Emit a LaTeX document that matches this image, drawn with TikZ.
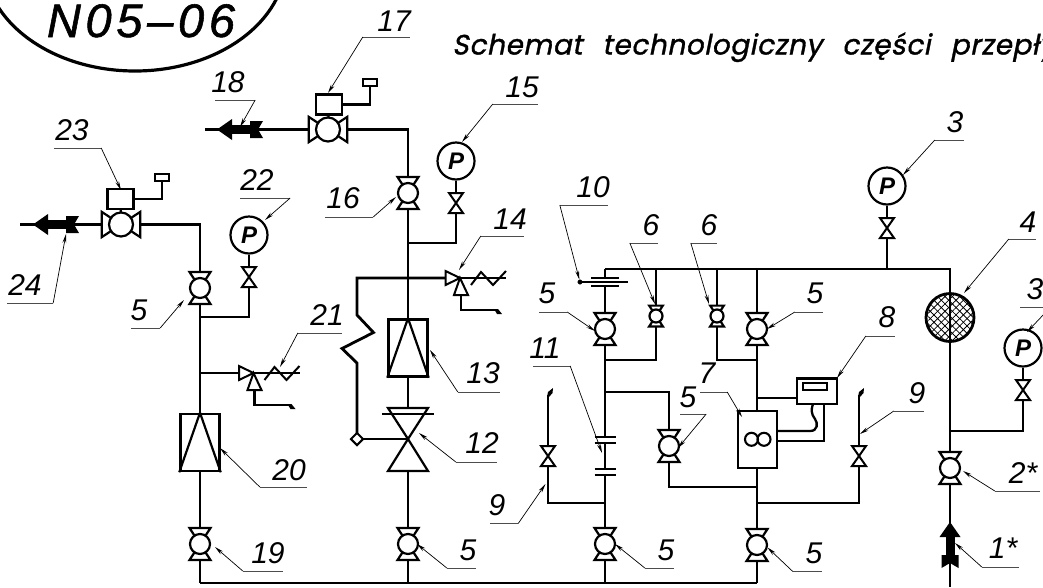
\documentclass[tikz,border=0pt]{standalone}
\usepackage{fontspec}
\setmainfont{Liberation Sans}
\newfontfamily\wideit[LetterSpace=10,FakeBold=1.2]{Liberation Sans}
\newfontfamily\titlefont[LetterSpace=2,WordSpace=2.5,FakeSlant=0.2,FakeBold=1.2]{Poppins}
\usetikzlibrary{arrows.meta,positioning,shapes.geometric,patterns.meta}
\tikzset{
  ballvalve/.pic={
    \draw [line width=2.2pt,fill=white] (-10.5,-16) -- (10.5,-16) -- (0,0) -- cycle;
    \draw [line width=2.2pt,fill=white] (-10.5,16) -- (10.5,16) -- (0,0) -- cycle;
    \draw [line width=2.2pt,fill=white] (0,0) circle (10);
  },
  needlevalve/.pic={
    \draw [line width=2pt,fill=white] (-7,-10) -- (7,-10) -- (0,0) -- cycle;
    \draw [line width=2pt,fill=white] (-7,10) -- (7,10) -- (0,0) -- cycle;
  },
  bigvalve/.pic={
    \draw [line width=2.2pt,fill=white] (-20,-31) -- (20,-31) -- (0,0) -- cycle;
    \draw [line width=2.2pt,fill=white] (-20,32) -- (20,32) -- (0,0) -- cycle;
    \draw [line width=2pt] (-26,-25) -- (26,-25);
  },
  reliefvalve/.pic={
    \draw [line width=2pt] (0,0) -- (46,0);
    \draw [line width=2pt] (11,7) -- (21,-6) -- (33,7) -- (46,-7);
    \draw [line width=2pt,fill=white] (-14.5,-7) -- (0,0) -- (-14.5,7) -- cycle;
    \draw [line width=2.8pt] (1,17) -- (1,32) -- (35,32);
    \draw [line width=2pt,fill=white] (0,0) -- (8,17) -- (-6,17) -- cycle;
    \fill (34,31) -- (38,31) -- (42,36) -- (37,36) -- cycle;
  },
  ventend/.pic={
    \fill (-1,2) -- (0,-3) -- (5,-7) -- (4.5,-2) -- (1,2) -- cycle;
  },
  flowarrow/.pic={
    \fill (0,0) -- (15,-10.5) -- (15,10.5) -- cycle;
    \fill (14,-4.5) rectangle (34,4.5);
    \fill (33,-8.5) -- (46,-8.5) -- (41,0) -- (46,8.5) -- (33,8.5) -- cycle;
  },
  flangepair/.pic={
    \fill [white] (-10,-3) rectangle (10,3);
    \draw [line width=2pt] (-10.5,-3) -- (10.5,-3);
    \draw [line width=2pt] (-10.5,3) -- (10.5,3);
  }
}
\begin{document}
\begin{tikzpicture}[x=1pt,y=-1pt]
\tikzstyle{pipe}=[line width=2.8pt]
\tikzstyle{wire}=[line width=2.3pt]
\tikzstyle{leader}=[line width=.7pt,-{Stealth[length=9pt,width=3.8pt]}]
\tikzstyle{uline}=[fill=black!70,inner sep=0pt,minimum height=1pt,anchor=center]
\tikzstyle{num}=[anchor=base,inner sep=0pt,font=\fontsize{30}{30}\selectfont\itshape]
\tikzstyle{gauge}=[draw,circle,fill=white,line width=2.2pt,inner sep=0pt,minimum size=37pt,font=\fontsize{24}{24}\selectfont\bfseries\itshape]
\tikzstyle{filter}=[draw,rectangle,fill=white,line width=2.5pt,inner sep=0pt,minimum width=39pt,minimum height=57pt]
\tikzstyle{actuator}=[draw,rectangle,fill=white,line width=2.3pt,inner sep=0pt,minimum width=26pt,minimum height=20pt]
\tikzstyle{tag}=[draw,rectangle,fill=white,line width=2pt,inner sep=0pt,minimum width=14pt,minimum height=7pt]
\useasboundingbox (0,0) rectangle (1043,587);
% heading
\draw [line width=3.2pt] (135,-40) ellipse (151 and 111);
\node [anchor=base,inner sep=0pt,font=\fontsize{47}{47}\selectfont\wideit\itshape] (sheet) at (141,37) {N05–06};
\node [anchor=base west,inner sep=0pt,font=\fontsize{28}{28}\selectfont\titlefont] (title) at (452,54.5) {Schemat technologiczny części przepły};
% junctions
\coordinate (hA) at (200,583);
\coordinate (hB) at (408,583);
\coordinate (hC) at (605,583);
\coordinate (hD) at (757,583);
\coordinate (end24) at (20,224.5);
\coordinate (end18) at (205,129.5);
\coordinate (end1) at (950,587);
\coordinate (b22) at (200,317);
\coordinate (b21) at (200,373);
\coordinate (b15) at (408,243);
\coordinate (z0) at (357,278);
\coordinate (z1) at (357,315);
\coordinate (z2) at (373.5,332.5);
\coordinate (z3) at (342,348.5);
\coordinate (z4) at (357,363);
\coordinate (mC) at (605,269);
\coordinate (m6a) at (656,269);
\coordinate (m6b) at (717,269);
\coordinate (mD) at (757,269);
\coordinate (m3) at (887,269);
\coordinate (b6a) at (605,360);
\coordinate (b6b) at (757,360);
\coordinate (b8) at (757,398);
\coordinate (b5c) at (605,392);
\coordinate (j5c) at (757,487);
\coordinate (b9a) at (605,503);
\coordinate (b9b) at (757,503);
\coordinate (e9a) at (548,395);
\coordinate (e9b) at (859,395);
\coordinate (b3) at (950,431);
\coordinate (w7a) at (777,431);
\coordinate (w7b) at (777,441);
\coordinate (w8a) at (813,404);
\coordinate (w8b) at (824,404);
\coordinate (f10) at (605,282);
\coordinate (f11a) at (605,440);
\coordinate (f11b) at (605,472);
% fittings
\coordinate (v23) at (121,224.5);
\coordinate (v17) at (328,129.5);
\coordinate (v5a) at (200,288);
\coordinate (v19) at (200,544);
\coordinate (v16) at (408,193);
\coordinate (v12) at (408,439);
\coordinate (v5b) at (408,544);
\coordinate (v5c) at (605,329);
\coordinate (v5d) at (605,544);
\coordinate (v5e) at (669,446);
\coordinate (v5f) at (757,329);
\coordinate (v5g) at (757,545);
\coordinate (v6a) at (656,316);
\coordinate (v6b) at (717,316);
\coordinate (v2) at (950,468);
\coordinate (rv21) at (253.5,373);
\coordinate (rv14) at (460,278);
\node [gauge] (g22) at (249,235) {P};
\node [gauge] (g15) at (456,161) {P};
\node [gauge] (g3a) at (887,186) {P};
\node [gauge] (g3b) at (1023,348) {P};
% pipes
\draw [pipe] (hA) -- (hD);
\draw [pipe] (end24) -- (v23);
\draw [pipe] (v23) -| (hA);
\draw [pipe] (end18) -- (v17);
\draw [pipe] (v17) -| (hB);
\draw [pipe] (g22) |- (b22);
\draw [pipe] (b21) -- (rv21);
\draw [pipe] (g15) |- (b15);
\draw [pipe] (rv14) -- (z0) -- (z1) -- (z2) -- (z3) -- (z4) -- (v12 -| z4);
\draw [pipe] (v12 -| z4) -- (v12);
\draw [pipe] (hC) -- (mC);
\draw [pipe] (mC) -| (end1);
\draw [pipe] (hD) -- (mD);
\draw [pipe] (m6a) |- (b6a);
\draw [pipe] (m6b) |- (b6b);
\draw [pipe] (m3) -- (g3a);
\draw [pipe] (b5c) -| (v5e);
\draw [pipe] (v5e) |- (j5c);
\draw [pipe] (b9a) -| (e9a);
\draw [pipe] (b9b) -| (e9b);
\draw [pipe] (b3) -| (g3b);
% fittings on top of the pipes
\node [actuator] (act23) at (120.5,199) {};
\node [tag] (tag23) at (162,177.5) {};
\draw [wire] (act23) -- (v23);
\draw [wire] (act23.east) -| (tag23.south);
\node [actuator] (act17) at (329,104.5) {};
\node [tag] (tag17) at (370,82.5) {};
\draw [wire] (act17) -- (v17);
\draw [wire] (act17.east) -| (tag17.south);
\pic [rotate=90,scale=1.2] at (v23) {ballvalve};
\pic [rotate=90,scale=1.2] at (v17) {ballvalve};
\pic at (v5a) {ballvalve};
\pic at (v19) {ballvalve};
\pic at (v16) {ballvalve};
\pic at (v5b) {ballvalve};
\pic at (v5c) {ballvalve};
\pic at (v5d) {ballvalve};
\pic at (v5e) {ballvalve};
\pic at (v5f) {ballvalve};
\pic at (v5g) {ballvalve};
\pic at (v2) {ballvalve};
\pic [scale=.65] at (v6a) {ballvalve};
\pic [scale=.65] at (v6b) {ballvalve};
\pic at (249,277) {needlevalve};
\pic at (456,203) {needlevalve};
\pic at (887,228) {needlevalve};
\pic at (1023,390) {needlevalve};
\pic at (548,456) {needlevalve};
\pic at (859,456) {needlevalve};
\pic at (v12) {bigvalve};
\pic at (rv21) {reliefvalve};
\pic at (rv14) {reliefvalve};
\pic at (e9a) {ventend};
\pic at (e9b) {ventend};
\pic at (33,224.5) {flowarrow};
\pic at (217,129.5) {flowarrow};
\pic [rotate=-90] at (950,522) {flowarrow};
\node [filter] (f20) at (200,442.5) {};
\draw [line width=2.2pt] (f20.north) -- (f20.south west);
\draw [line width=2.2pt] (f20.north) -- (f20.south east);
\node [filter] (f13) at (408,348) {};
\draw [line width=2.2pt] (f13.north) -- (f13.south west);
\draw [line width=2.2pt] (f13.north) -- (f13.south east);
\node [draw,diamond,fill=white,line width=2pt,inner sep=0pt,minimum size=13pt] (d12) at (v12 -| z4) {};
\pic at (f11a) {flangepair};
\pic at (f11b) {flangepair};
\pic [scale=1.3] at (f10) {flangepair};
\node [draw,circle,fill=black,inner sep=0pt,minimum size=4.5pt] (dot10) at (580,282) {};
\coordinate (end10) at (628,282);
\draw [wire] (dot10) -- (end10);
\node [draw,circle,line width=2.8pt,minimum size=48pt,inner sep=0pt,
  preaction={pattern={Lines[angle=45,distance=5.2pt,line width=.8pt]}},
  preaction={pattern={Lines[angle=-45,distance=5.2pt,line width=.8pt]}}] (mesh4) at (950,317.5) {};
\node [draw,rectangle,fill=white,line width=2.4pt,inner sep=0pt,minimum width=38.5pt,minimum height=57pt] (box7) at (757.5,439.5) {};
\node [draw,circle,line width=2.1pt,inner sep=0pt,minimum size=13pt] (c7a) at (751.5,439.3) {};
\node [draw,circle,line width=2.1pt,inner sep=0pt,minimum size=13pt] (c7b) at (764,439.3) {};
\node [draw,rectangle,fill=white,line width=2.4pt,inner sep=0pt,minimum width=40.5pt,minimum height=25.5pt] (box8) at (817,391.2) {};
\node [draw,rectangle,line width=2pt,inner sep=0pt,minimum width=24pt,minimum height=6.5pt] (disp8) at (814.5,386.7) {};
\draw [pipe] (b8) -- (b8 -| box8.west);
\draw [wire] (w8b) |- (w7b);
\draw [wire] (w7a) -- (810,431) .. controls (818,431) and (818,423) .. (815,419) .. controls (811,414) and (811,409) .. (w8a);
% labels
\node [uline,minimum width=47pt] (r17) at (386.5,37) {};
\node [num] (n17) at (394,31) {17};
\coordinate (t17) at (328,93);
\draw [leader] (r17.west) -- (t17);
\node [uline,minimum width=45pt] (r15) at (515.5,104) {};
\node [num] (n15) at (522,97) {15};
\coordinate (t15) at (462,142);
\draw [leader] (r15.west) -- (t15);
\node [uline,minimum width=40pt] (r18) at (235,100) {};
\node [num] (n18) at (228,92) {18};
\coordinate (t18) at (240,127);
\draw [leader] (r18.east) -- (t18);
\node [uline,minimum width=47pt] (r23) at (77.5,148) {};
\node [num] (n23) at (72,140) {23};
\coordinate (t23) at (121,190);
\draw [leader] (r23.east) -- (t23);
\node [uline,minimum width=50pt] (r22) at (265,198) {};
\node [num] (n22) at (257,190) {22};
\coordinate (t22) at (265,220);
\draw [leader] (r22.east) -- (t22);
\node [uline,minimum width=46pt] (r24) at (30,303) {};
\node [num] (n24) at (25,295) {24};
\coordinate (t24) at (66,234);
\draw [leader] (r24.east) -- (t24);
\node [uline,minimum width=48pt] (r16) at (349,217) {};
\node [num] (n16) at (343,208) {16};
\coordinate (t16) at (396,197);
\draw [leader] (r16.east) -- (t16);
\node [uline,minimum width=29pt] (r5a) at (145.5,328) {};
\node [num] (n5a) at (139,320) {5};
\coordinate (t5a) at (184,300);
\draw [leader] (r5a.east) -- (t5a);
\node [uline,minimum width=44pt] (r21) at (320,333) {};
\node [num] (n21) at (327,325) {21};
\coordinate (t21) at (280,367);
\draw [leader] (r21.west) -- (t21);
\node [uline,minimum width=47pt] (r20) at (283.5,487) {};
\node [num] (n20) at (289,480) {20};
\coordinate (t20) at (220,448);
\draw [leader] (r20.west) -- (t20);
\node [uline,minimum width=40pt] (r19) at (263,571) {};
\node [num] (n19) at (268,563) {19};
\coordinate (t19) at (215,547);
\draw [leader] (r19.west) -- (t19);
\node [uline,minimum width=43pt] (r14) at (502.5,236) {};
\node [num] (n14) at (510,229) {14};
\coordinate (t14) at (459,270);
\draw [leader] (r14.west) -- (t14);
\node [uline,minimum width=42pt] (r13) at (479,392) {};
\node [num] (n13) at (483,383) {13};
\coordinate (t13) at (430,350);
\draw [leader] (r13.west) -- (t13);
\node [uline,minimum width=41pt] (r12) at (476.5,462) {};
\node [num] (n12) at (482,453) {12};
\coordinate (t12) at (419,433);
\draw [leader] (r12.west) -- (t12);
\node [uline,minimum width=29pt] (r5b) at (461.5,568) {};
\node [num] (n5b) at (468,560) {5};
\coordinate (t5b) at (417,544);
\draw [leader] (r5b.west) -- (t5b);
\node [uline,minimum width=29pt] (r5d) at (659.5,568) {};
\node [num] (n5d) at (666,560) {5};
\coordinate (t5d) at (615,544);
\draw [leader] (r5d.west) -- (t5d);
\node [uline,minimum width=29pt] (r5g) at (807.5,571.5) {};
\node [num] (n5g) at (814,563) {5};
\coordinate (t5g) at (767.5,547.5);
\draw [leader] (r5g.west) -- (t5g);
\node [uline,minimum width=28pt] (r9a) at (504,523.5) {};
\node [num] (n9a) at (497,515) {9};
\coordinate (t9a) at (545.5,484);
\draw [leader] (r9a.east) -- (t9a);
\node [uline,minimum width=48pt] (r10) at (584,205) {};
\node [num] (n10) at (593,197) {10};
\draw [leader] (r10.west) -- (dot10);
\node [uline,minimum width=28pt] (r5c) at (553,312) {};
\node [num] (n5c) at (547,303) {5};
\coordinate (t5c) at (595,331);
\draw [leader] (r5c.east) -- (t5c);
\node [uline,minimum width=28pt] (r6a) at (644,243) {};
\node [num] (n6a) at (651,235) {6};
\coordinate (t6a) at (655,304);
\draw [leader] (r6a.west) -- (t6a);
\node [uline,minimum width=26pt] (r6b) at (704,243) {};
\node [num] (n6b) at (709,235) {6};
\coordinate (t6b) at (709,304);
\draw [leader] (r6b.west) -- (t6b);
\node [uline,minimum width=28pt] (r5f) at (809,312) {};
\node [num] (n5f) at (815,303) {5};
\coordinate (t5f) at (767,329);
\draw [leader] (r5f.west) -- (t5f);
\node [uline,minimum width=29pt] (r8) at (880.5,336) {};
\node [num] (n8) at (887,327) {8};
\coordinate (t8) at (837,378);
\draw [leader] (r8.west) -- (t8);
\node [uline,minimum width=27pt] (r7) at (713.5,392) {};
\node [num] (n7) at (707,383) {7};
\coordinate (t7) at (742,417);
\draw [leader] (r7.east) -- (t7);
\node [uline,minimum width=26pt] (r5e) at (693,414) {};
\node [num] (n5e) at (688,407) {5};
\coordinate (t5e) at (678,448);
\draw [leader] (r5e.east) -- (t5e);
\node [uline,minimum width=30pt] (r9b) at (909,411) {};
\node [num] (n9b) at (917,403) {9};
\coordinate (t9b) at (860,434);
\draw [leader] (r9b.west) -- (t9b);
\node [uline,minimum width=27pt] (r4) at (1022.5,239) {};
\node [num] (n4) at (1028,232) {4};
\coordinate (t4) at (964,293);
\draw [leader] (r4.west) -- (t4);
\node [uline,minimum width=29pt] (r3a) at (949.5,140) {};
\node [num] (n3a) at (955,132) {3};
\coordinate (t3a) at (903,175);
\draw [leader] (r3a.west) -- (t3a);
\node [uline,minimum width=30pt] (r3b) at (1035,307.5) {};
\node [num] (n3b) at (1035,299) {3};
\coordinate (t3b) at (1027,332);
\draw [leader] (r3b.east) -- (t3b);
\node [uline,minimum width=45pt] (r2) at (1017.5,491) {};
\node [num] (n2) at (1023,483) {2*};
\coordinate (t2) at (963,471);
\draw [leader] (r2.west) -- (t2);
\node [uline,minimum width=37pt] (r1) at (1000.5,567) {};
\node [num] (n1) at (1003,558) {1*};
\coordinate (t1) at (955,543);
\draw [leader] (r1.west) -- (t1);
\node [uline,minimum width=37pt] (r11) at (551.5,366) {};
\node [num] (n11) at (545,358) {11};
\coordinate (t11) at (602,453);
\draw [leader] (r11.east) -- (t11);
\end{tikzpicture}
\end{document}
